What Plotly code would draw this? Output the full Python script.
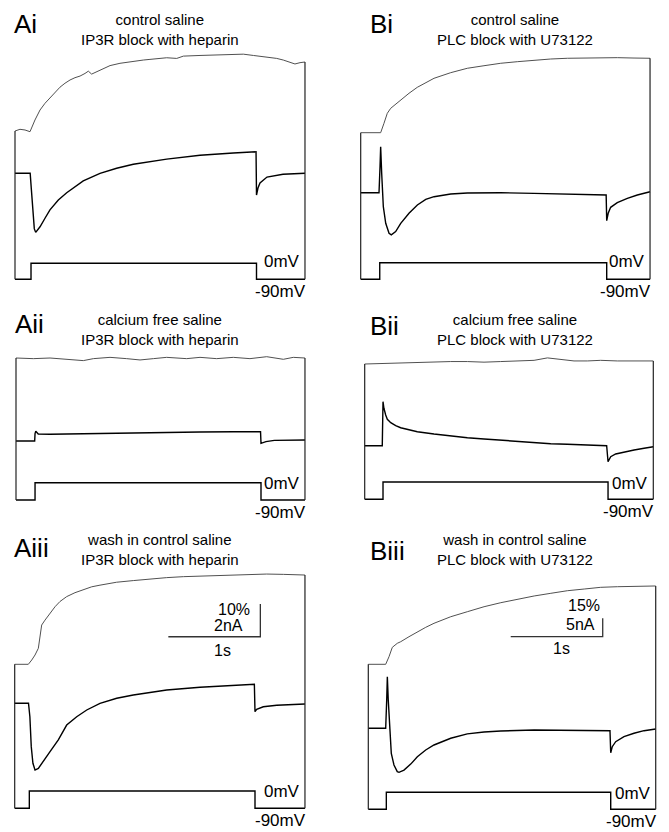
import plotly.graph_objects as go

W, H = 669, 832
FONT = "Liberation Sans, Arial, sans-serif"

# ---------------- DATA ----------------
# time in s from sweep start, current in nA (relative to holding), fluorescence in % dF/F, voltage in mV
titles = ["control saline<br>IP3R block with heparin",
          "calcium free saline<br>IP3R block with heparin",
          "wash in control saline<br>IP3R block with heparin",
          "control saline<br>PLC block with U73122",
          "calcium free saline<br>PLC block with U73122",
          "wash in control saline<br>PLC block with U73122"]
panel_labels = ["Ai", "Aii", "Aiii", "Bi", "Bii", "Biii"]
volt_levels = [-90, 0, -90, -90]
volt_labels = ["0mV", "-90mV"]

# Ai
ai_sweep = 3.152
ai_step = [0.174, 2.625]
ai_cur_t = [0, 0.15, 0.165, 0.178, 0.195, 0.21, 0.225, 0.272, 0.326, 0.380, 0.471, 0.562, 0.742, 0.924,
            1.105, 1.286, 1.649, 2.011, 2.373, 2.62, 2.625, 2.641, 2.663, 2.739, 2.913, 3.152]
ai_cur = [0, 0, 0, -1.0, -2.6, -3.4, -3.61, -3.27, -2.75, -2.24, -1.63, -1.19, -0.47, 0,
          0.31, 0.55, 0.87, 1.10, 1.24, 1.32, -1.33, -0.9, -0.59, -0.23, -0.06, 0]
ai_fl_t = [0, 0.054, 0.109, 0.163, 0.217, 0.272, 0.326, 0.380, 0.435, 0.489, 0.543, 0.598, 0.652, 0.707,
           0.761, 0.797, 0.833, 0.888, 0.960, 1.033, 1.141, 1.286, 1.395, 1.467, 1.649, 1.758, 1.830,
           2.011, 2.192, 2.373, 2.482, 2.591, 2.736, 2.845, 2.916, 2.989, 3.043, 3.098, 3.152]
ai_fl = [0, 0.52, 0.31, -0.21, 3.36, 6.42, 8.47, 10.0, 11.7, 13.4, 14.6, 15.6, 16.3, 16.8,
         17.6, 18.3, 17.4, 18.1, 19.1, 20.0, 20.7, 21.4, 21.7, 21.9, 22.4, 22.2, 22.9,
         23.1, 23.3, 23.4, 23.5, 23.1, 22.7, 22.2, 21.7, 20.9, 20.5, 20.9, 21.1]

# Aii
aii_sweep = 3.141
aii_step = [0.207, 2.663]
aii_cur_t = [0, 0.203, 0.207, 0.215, 0.242, 0.37, 0.551, 0.913, 1.275, 1.638, 2.0, 2.362, 2.658,
             2.663, 2.717, 2.808, 2.917, 3.141]
aii_cur = [0, 0, 0.45, 0.6, 0.43, 0.41, 0.43, 0.47, 0.51, 0.53, 0.55, 0.57, 0.57,
           -0.14, -0.04, 0.04, 0.06, 0.06]
aii_fl_t = [0, 0.188, 0.37, 0.551, 0.732, 0.841, 1.022, 1.203, 1.348, 1.493, 1.638, 1.855, 2.0,
            2.181, 2.362, 2.543, 2.725, 2.906, 3.014, 3.141]
aii_fl = [0, -0.2, 0, -0.3, -0.8, -0.2, 0.2, -0.2, -0.6, -0.2, 0.2, -0.2, 0.2,
          -0.2, 0.2, -0.2, 0.4, -0.4, 0.2, 0]

# Aiii
aiii_sweep = 3.155
aiii_step = [0.159, 2.612]
aiii_cur_t = [0, 0.15, 0.165, 0.18, 0.198, 0.221, 0.257, 0.311, 0.384, 0.474, 0.565, 0.674, 0.783,
              0.927, 1.109, 1.289, 1.47, 1.652, 2.014, 2.376, 2.605, 2.612, 2.63, 2.702, 2.848, 3.155]
aiii_cur = [0, 0, -0.82, -2.65, -3.67, -4.08, -3.98, -3.57, -2.96, -2.24, -1.33, -0.82, -0.41,
            0, 0.31, 0.51, 0.67, 0.81, 0.98, 1.08, 1.16, -0.51, -0.37, -0.21, -0.12, -0.04]
aiii_fl_t = [0, 0.148, 0.185, 0.221, 0.257, 0.283, 0.293, 0.329, 0.384, 0.438, 0.492, 0.565, 0.655,
             0.746, 0.837, 0.927, 1.108, 1.289, 1.471, 1.652, 1.833, 2.014, 2.195, 2.376, 2.558,
             2.739, 2.92, 3.155]
aiii_fl = [0, 0, 1.31, 2.84, 4.89, 9.48, 12.0, 13.5, 15.6, 17.6, 19.2, 20.7, 21.9,
           22.9, 23.7, 24.2, 25.1, 25.6, 26.1, 26.5, 26.8, 27.0, 27.2, 27.3, 27.5,
           27.6, 27.5, 27.3]

# Bi
bi_sweep = 3.145
bi_step = [0.207, 2.674]
bi_cur_t = [0, 0.199, 0.21, 0.217, 0.228, 0.246, 0.272, 0.308, 0.333, 0.380, 0.435, 0.525, 0.616,
            0.707, 0.797, 0.978, 1.159, 1.522, 1.884, 2.246, 2.536, 2.668, 2.674, 2.69, 2.717,
            2.789, 2.898, 3.007, 3.145]
bi_cur = [0, 0, 7.08, 12.5, 5.29, -3.81, -8.34, -11.05, -11.5, -10.6, -8.34, -5.61, -3.35,
          -1.83, -1.09, -0.35, -0.08, 0, -0.19, -0.35, -0.54, -0.63, -7.63, -5.61, -3.98,
          -2.72, -1.53, -0.63, 0.27]
bi_fl_t = [0, 0.217, 0.253, 0.289, 0.326, 0.38, 0.435, 0.525, 0.615, 0.707, 0.797, 0.978, 1.159,
           1.34, 1.522, 1.702, 1.884, 2.065, 2.246, 2.428, 2.609, 2.789, 2.971, 3.145]
bi_fl = [0, 0, 7.7, 15.9, 20.0, 23.5, 26.8, 32.3, 37.2, 41.0, 44.6, 49.2, 52.8,
         54.9, 56.9, 58.2, 59.6, 60.4, 61.0, 61.2, 61.5, 61.5, 61.2, 61.0]

# Bii
bii_sweep = 3.137
bii_step = [0.199, 2.645]
bii_cur_t = [0, 0.191, 0.199, 0.209, 0.228, 0.246, 0.283, 0.337, 0.391, 0.482, 0.572, 0.753, 0.935,
             1.116, 1.297, 1.478, 1.659, 1.841, 2.022, 2.203, 2.384, 2.63, 2.645, 2.674, 2.728,
             2.819, 2.928, 3.037, 3.137]
bii_cur = [0, 0, 12.0, 10.2, 8.37, 7.19, 6.27, 5.45, 4.90, 4.28, 3.81, 3.19, 2.64,
           2.18, 1.83, 1.47, 1.09, 0.82, 0.54, 0.38, 0.19, 0, -4.36, -3.0, -2.26,
           -1.72, -1.17, -0.71, -0.27]
bii_fl_t = [0, 0.21, 0.391, 0.572, 0.753, 0.935, 1.116, 1.297, 1.478, 1.659, 1.841, 1.986, 2.13,
            2.275, 2.42, 2.565, 2.746, 2.928, 3.137]
bii_fl = [0, 0.5, 1, 1, 1.5, 2, 2, 1.5, 2, 2.5, 3, 5, 3.5, 2.5, 2.5, 3, 2.5, 2.5, 2.5]

# Biii
biii_sweep = 3.124
biii_step = [0.196, 2.635]
biii_cur_t = [0, 0.189, 0.2, 0.207, 0.217, 0.233, 0.25, 0.279, 0.315, 0.334, 0.388, 0.461, 0.533,
              0.624, 0.714, 0.896, 1.076, 1.258, 1.44, 1.803, 2.163, 2.453, 2.627, 2.635, 2.652,
              2.689, 2.779, 2.888, 2.997, 3.124]
biii_cur = [0, 0, 7.71, 14.06, 7.71, -1.36, -6.81, -10.0, -11.8, -12.0, -11.4, -9.76, -7.74,
            -5.91, -4.55, -2.72, -1.53, -0.99, -0.74, -0.46, -0.46, -0.54, -0.65, -6.65, -5.01,
            -3.65, -2.29, -1.36, -0.65, -0.19]
biii_fl_t = [0, 0.189, 0.225, 0.261, 0.315, 0.352, 0.442, 0.533, 0.624, 0.714, 0.896, 1.076, 1.258,
             1.44, 1.62, 1.803, 1.984, 2.163, 2.347, 2.526, 2.707, 2.888, 3.124]
biii_fl = [0, 0, 6.2, 13.9, 17.2, 18.5, 22.6, 26.7, 30.3, 33.6, 39.0, 43.1, 47.2,
           50.5, 53.5, 56.0, 58.2, 60.3, 61.7, 63.1, 63.6, 63.9, 64.2]

# scale bars (Aiii, Biii)
scale_time = 1.0            # s
scale_A = [10, 2]           # %, nA
scale_B = [15, 5]           # %, nA

# ---------------- LAYOUT (pixel geometry of each panel) ----------------
PX_PER_S = 92.0
panels = [
    dict(sweep=ai_sweep, step=ai_step, ct=ai_cur_t, c=ai_cur, ft=ai_fl_t, f=ai_fl,
         xl=15, top=40, bot=292, c0=173.3, cp=16.35, f0=131, fp=3.27, v0=263.3, v90=279.3,
         tx=160, ty=29.5, lx=12, ly=24, dv0=-2),
    dict(sweep=aii_sweep, step=aii_step, ct=aii_cur_t, c=aii_cur, ft=aii_fl_t, f=aii_fl,
         xl=16, top=340, bot=512, c0=441, cp=16.35, f0=358, fp=3.27, v0=482.7, v90=500,
         tx=160, ty=329, lx=13, ly=324, dv0=1),
    dict(sweep=aiii_sweep, step=aiii_step, ct=aiii_cur_t, c=aiii_cur, ft=aiii_fl_t, f=aiii_fl,
         xl=14.7, top=565, bot=820, c0=703.3, cp=16.35, f0=664.3, fp=3.27, v0=791, v90=808.3,
         tx=160, ty=549.5, lx=12, ly=548, dv0=0),
    dict(sweep=bi_sweep, step=bi_step, ct=bi_cur_t, c=bi_cur, ft=bi_fl_t, f=bi_fl,
         xl=360.7, top=40, bot=292, c0=192.7, cp=3.67, f0=132.7, fp=1.22, v0=262.7, v90=279.3,
         tx=515, ty=29.5, lx=368, ly=24, dv0=-1),
    dict(sweep=bii_sweep, step=bii_step, ct=bii_cur_t, c=bii_cur, ft=bii_fl_t, f=bii_fl,
         xl=364.7, top=340, bot=512, c0=445.7, cp=3.67, f0=364, fp=1.22, v0=482, v90=499.3,
         tx=515, ty=329, lx=368, ly=326, dv0=1),
    dict(sweep=biii_sweep, step=biii_step, ct=biii_cur_t, c=biii_cur, ft=biii_fl_t, f=biii_fl,
         xl=368.3, top=565, bot=820, c0=728.3, cp=3.67, f0=664.3, fp=1.22, v0=792.3, v90=809.3,
         tx=515, ty=549.5, lx=368, ly=551, dv0=1),
]

layout = dict(width=W, height=H, margin=dict(l=0, r=0, t=0, b=0), autosize=False,
              paper_bgcolor="white", plot_bgcolor="rgba(0,0,0,0)", showlegend=False,
              annotations=[], shapes=[])


def px(xp):
    return xp / W


def py(yp):
    return 1 - yp / H


def yn(i):
    return "y" if i == 1 else f"y{i}"


def note(text, x, y, xanchor, size):
    layout["annotations"].append(dict(text=text, x=px(x), y=py(y), xref="paper", yref="paper",
                                      xanchor=xanchor, yanchor="middle", showarrow=False,
                                      font=dict(family=FONT, size=size, color="black")))


fig = go.Figure()
PAD = 5.0  # px padding around the trace area

for k, p in enumerate(panels):
    xi = k + 1
    yc, yf, yv = 3 * k + 1, 3 * k + 2, 3 * k + 3
    xname = "x" if xi == 1 else f"x{xi}"
    xr = p["xl"] + p["sweep"] * PX_PER_S
    p["xr"] = xr
    xkey = "xaxis" if xi == 1 else f"xaxis{xi}"
    layout[xkey] = dict(domain=[px(p["xl"] - PAD), px(xr + PAD)],
                        range=[-PAD / PX_PER_S, p["sweep"] + PAD / PX_PER_S],
                        anchor=yn(yc), visible=False, fixedrange=True)
    vp = (p["v90"] - p["v0"]) / 90.0
    for yi, zero, ppu in [(yc, p["c0"], p["cp"]), (yf, p["f0"], p["fp"]), (yv, p["v0"], vp)]:
        ykey = "yaxis" if yi == 1 else f"yaxis{yi}"
        layout[ykey] = dict(domain=[py(p["bot"]), py(p["top"])],
                            range=[(zero - p["bot"]) / ppu, (zero - p["top"]) / ppu],
                            anchor=xname, visible=False, fixedrange=True)

    # fluorescence
    fig.add_trace(go.Scatter(x=p["ft"], y=p["f"], xaxis=xname, yaxis=yn(yf), mode="lines",
                             line=dict(color="#505050", width=1.0), hoverinfo="skip"))
    # current
    fig.add_trace(go.Scatter(x=p["ct"], y=p["c"], xaxis=xname, yaxis=yn(yc), mode="lines",
                             line=dict(color="black", width=1.4), hoverinfo="skip"))
    # voltage protocol
    vt = [0, p["step"][0], p["step"][1], p["sweep"]]
    fig.add_trace(go.Scatter(x=vt, y=volt_levels, xaxis=xname, yaxis=yn(yv), mode="lines",
                             line=dict(color="black", width=1.4, shape="hv"), hoverinfo="skip"))

    # frame lines from fluorescence start/end down to the holding level
    for tt, fv in [(0, p["f"][0]), (p["sweep"], p["f"][-1])]:
        ytop = p["f0"] - fv * p["fp"]
        layout["shapes"].append(dict(type="line", xref=xname, yref="paper", x0=tt, x1=tt,
                                     y0=py(ytop), y1=py(p["v90"]),
                                     line=dict(color="#222", width=1.2)))

    # texts
    note(titles[k], p["tx"], p["ty"], "center", 15)
    note(panel_labels[k], p["lx"], p["ly"], "left", 26)
    note(volt_labels[0], xr - 3, p["v0"] + p["dv0"], "right", 17)
    note(volt_labels[1], xr + 3, p["v90"] + 12, "right", 17)

# scale bars (drawn on the current axis of Aiii and Biii, time axis in s)
# (panel, bar start time, bar level nA, values, label offsets in px)
bars = [(2, 1.67, 4.07, scale_A, dict(pc=(-8, None, 5), na=(-15, -11), s=(-38, 14))),
        (5, 1.548, 24.96, scale_B, dict(pc=(-1, -31, 0), na=(-6, -12), s=(-41, 12)))]
for k, t0, cb, sc, off in bars:
    p = panels[k]
    xname = f"x{k + 1}"
    fig.add_trace(go.Scatter(x=[t0, t0 + scale_time, t0 + scale_time],
                             y=[cb, cb, cb + sc[1]], xaxis=xname, yaxis=yn(3 * k + 1), mode="lines",
                             line=dict(color="#333", width=1.3), hoverinfo="skip"))
    bx1 = p["xl"] + (t0 + scale_time) * PX_PER_S
    by = p["c0"] - cb * p["cp"]
    bt = by - sc[1] * p["cp"]
    pcy = (bt + off["pc"][2]) if off["pc"][1] is None else (by + off["pc"][1])
    note(f"{sc[0]}%", bx1 + off["pc"][0], pcy, "right", 16)
    note(f"{sc[1]}nA", bx1 + off["na"][0], by + off["na"][1], "right", 16)
    note(f"{int(scale_time)}s", bx1 + off["s"][0], by + off["s"][1], "center", 16)

fig.update_layout(**layout)
fig.write_html("out.html", config={"staticPlot": True},
               post_script="document.body.style.margin='0';document.body.style.overflow='hidden';")
